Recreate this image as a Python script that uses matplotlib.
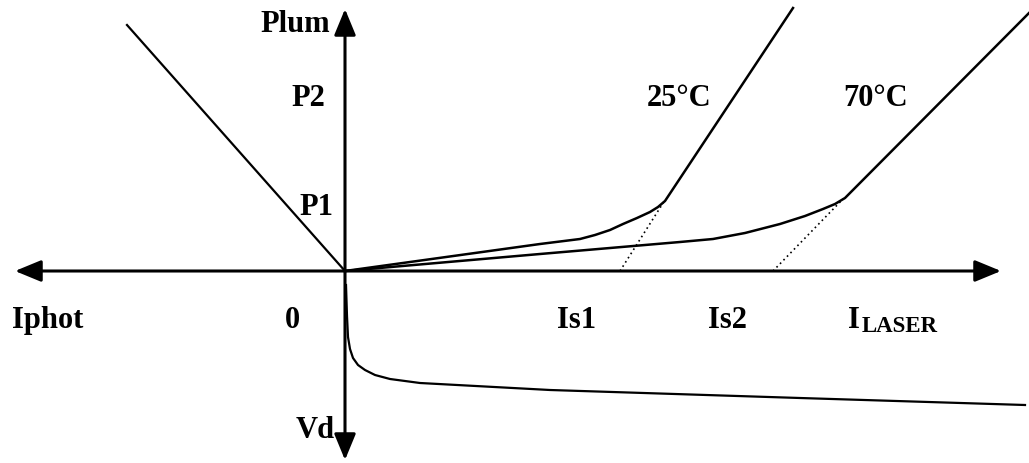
import matplotlib
matplotlib.use('Agg')
import matplotlib.pyplot as plt
import numpy as np

plt.rcParams['font.family'] = ['Liberation Serif', 'DejaVu Serif']
plt.rcParams['font.weight'] = 'bold'

# laser current (right) / photodiode current (left), arbitrary units
photo_x = [-218, 0]
photo_y = [246, 0]

# light-current curves, 25C and 70C
t25_x = [0, 195, 235, 250, 265, 278, 292, 305, 313, 320, 448]
t25_y = [0, 27, 32, 36, 41, 47, 53, 59, 64, 70, 263]
t70_x = [0, 195, 335, 368, 400, 435, 460, 478, 490, 500, 684]
t70_y = [0, 17, 29, 32, 38, 47, 55, 62, 67, 73, 258]

# threshold extrapolations (dotted)
th25_x = [275, 320]
th25_y = [0, 71]
th70_x = [428, 498]
th70_y = [0, 72]

# diode voltage
vd_x = [1, 2, 3, 5, 8, 13, 20, 30, 45, 75, 205, 455, 680]
vd_y = [-14, -45, -66, -78, -87, -94, -99, -104, -108, -112, -119, -127, -134]

fig = plt.figure(figsize=(10.29, 4.63), dpi=100)
ax = fig.add_axes([0, 0, 1, 1])
ax.set_xlim(-345, 684)
ax.set_ylim(-192, 271)
ax.axis('off')

arrow = dict(arrowstyle='<|-|>,head_length=0.8,head_width=0.33', color='black',
             lw=2.2, mutation_scale=20, shrinkA=0, shrinkB=0)
ax.annotate('', xy=(656, 0), xytext=(-330, 0), arrowprops=arrow)
ax.annotate('', xy=(0, 262), xytext=(0, -189), arrowprops=arrow)

ax.plot(photo_x, photo_y, color='black', lw=1.6)
ax.plot(t25_x, t25_y, color='black', lw=1.8)
ax.plot(t70_x, t70_y, color='black', lw=1.8)
ax.plot(th25_x, th25_y, color='black', lw=1.2, ls=(0, (1, 2)))
ax.plot(th70_x, th70_y, color='black', lw=1.2, ls=(0, (1, 2)))
ax.plot(vd_x, vd_y, color='black', lw=1.6)

fs = 22
ax.text(-15, 239, 'Plum', fontsize=fs, ha='right', va='baseline')
ax.text(-20, 165, 'P2', fontsize=fs, ha='right', va='baseline')
ax.text(-12, 56, 'P1', fontsize=fs, ha='right', va='baseline')
ax.text(302, 165, '25\u00b0C', fontsize=fs, ha='left', va='baseline')
ax.text(498, 165, '70\u00b0C', fontsize=fs, ha='left', va='baseline')
ax.text(-333, -57, 'Iphot', fontsize=fs, ha='left', va='baseline')
ax.text(-45, -57, '0', fontsize=fs, ha='right', va='baseline')
ax.text(212, -57, 'Is1', fontsize=fs, ha='left', va='baseline')
ax.text(363, -57, 'Is2', fontsize=fs, ha='left', va='baseline')
ax.text(503, -57, 'I', fontsize=fs, ha='left', va='baseline')
ax.text(517, -61, 'LASER', fontsize=16.5, ha='left', va='baseline')
ax.text(-10, -167, 'Vd', fontsize=fs, ha='right', va='baseline')

fig.savefig('out.png', dpi=100)
